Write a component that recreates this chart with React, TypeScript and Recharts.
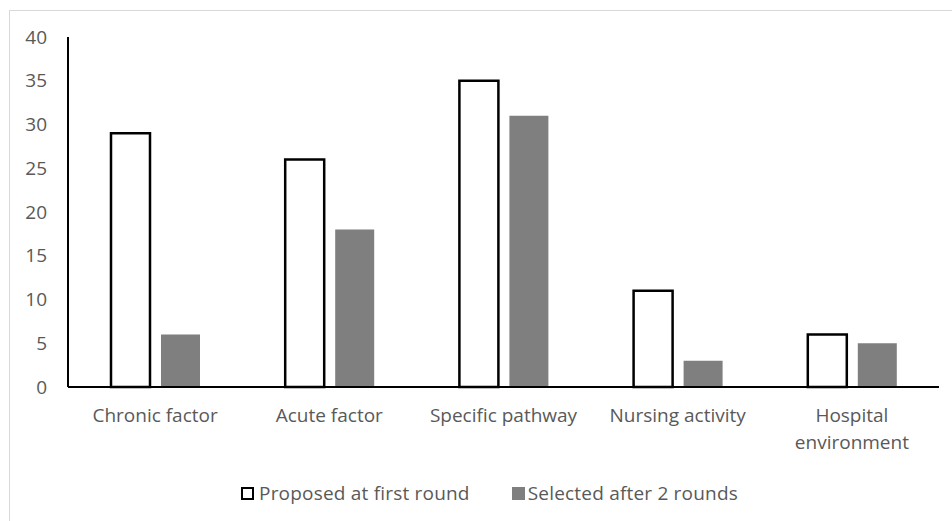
import React from "react";
import { BarChart, Bar, XAxis, YAxis, Legend } from "recharts";

const categories = ["Chronic factor", "Acute factor", "Specific pathway", "Nursing activity", "Hospital environment"];
const proposedAtFirstRound = [29, 26, 35, 11, 6];
const selectedAfter2Rounds = [6, 18, 31, 3, 5];
const yTicks = [0, 5, 10, 15, 20, 25, 30, 35, 40];

const seriesNames = {
  proposed: "Proposed at first round",
  selected: "Selected after 2 rounds",
};

const data = categories.map((c, i) => ({
  category: c,
  proposed: proposedAtFirstRound[i],
  selected: selectedAfter2Rounds[i],
}));

const FONT = "'Open Sans', 'Noto Sans', sans-serif";
const TEXT = "#595959";
const FS = 19;

function wrap(text: string): string[] {
  if (text.length <= 18) return [text];
  const words = text.split(" ");
  const lines: string[] = [];
  let cur = "";
  for (const w of words) {
    if (cur && (cur + " " + w).length > 12) {
      lines.push(cur);
      cur = w;
    } else {
      cur = cur ? cur + " " + w : w;
    }
  }
  if (cur) lines.push(cur);
  return lines;
}

const XTick = (props: any) => {
  const { x, y, payload } = props;
  const lines = wrap(String(payload.value));
  return (
    <text x={x} y={y} textAnchor="middle" fill={TEXT} fontFamily={FONT} fontSize={FS}>
      {lines.map((l, i) => (
        <tspan key={i} x={x} dy={i === 0 ? 35 : 27}>
          {l}
        </tspan>
      ))}
    </text>
  );
};

const LegendContent = () => (
  <div
    style={{
      display: "flex",
      justifyContent: "center",
      alignItems: "center",
      height: 24,
      paddingLeft: 32,
      fontFamily: FONT,
      fontSize: FS,
      color: TEXT,
    }}
  >
    <div style={{ display: "flex", alignItems: "center", marginRight: 42 }}>
      <span
        style={{
          display: "inline-block",
          width: 9,
          height: 9,
          border: "2px solid #000",
          background: "#fff",
          marginRight: 5,
        }}
      />
      <span style={{ letterSpacing: 0.2 }}>{seriesNames.proposed}</span>
    </div>
    <div style={{ display: "flex", alignItems: "center" }}>
      <span
        style={{
          display: "inline-block",
          width: 13,
          height: 13,
          background: "#7f7f7f",
          marginRight: 3,
        }}
      />
      <span style={{ letterSpacing: 0.2 }}>{seriesNames.selected}</span>
    </div>
  </div>
);

export default function App() {
  return (
    <div
      style={{
        position: "absolute",
        left: 0,
        top: 0,
        width: 952,
        height: 521,
        overflow: "hidden",
        background: "#fff",
      }}
    >
      <div
        style={{
          position: "absolute",
          left: 9,
          top: 10,
          width: 980,
          height: 560,
          border: "1px solid #d9d9d9",
        }}
      />
      <div style={{ position: "absolute", left: 0, top: 0 }}>
        <BarChart
          width={952}
          height={521}
          data={data}
          margin={{ top: 37, right: 13, bottom: 0, left: 8 }}
          barGap={11}
          barSize={39}
        >
          <XAxis
            dataKey="category"
            height={94}
            tickLine={false}
            tickSize={0}
            tickMargin={0}
            axisLine={{ stroke: "#000", strokeWidth: 2 }}
            tick={<XTick />}
            interval={0}
          />
          <YAxis
            width={60}
            domain={[0, 40]}
            ticks={yTicks}
            interval={0}
            tickLine={false}
            tickSize={0}
            tickMargin={21}
            axisLine={{ stroke: "#000", strokeWidth: 2 }}
            tick={{ fill: TEXT, fontFamily: FONT, fontSize: FS }}
          />
          <Legend verticalAlign="bottom" height={40} content={<LegendContent />} />
          <Bar
            dataKey="proposed"
            name={seriesNames.proposed}
            fill="#ffffff"
            stroke="#000"
            strokeWidth={2.5}
            isAnimationActive={false}
          />
          <Bar
            dataKey="selected"
            name={seriesNames.selected}
            fill="#7f7f7f"
            isAnimationActive={false}
          />
        </BarChart>
      </div>
    </div>
  );
}
